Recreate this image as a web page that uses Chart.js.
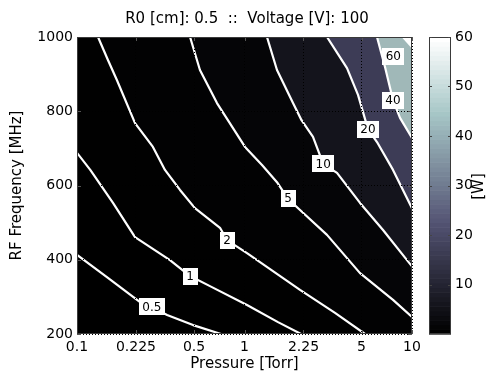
<!DOCTYPE html>
<html><head><meta charset="utf-8">
<script src="https://cdn.jsdelivr.net/npm/chart.js@4.4.0/dist/chart.umd.min.js"></script>
<style>html,body{margin:0;padding:0;background:#fff;}</style>
</head><body>
<canvas id="c" width="494" height="375"></canvas>
<script>
// ---- text ----
const TITLE = 'R0 [cm]: 0.5  ::  Voltage [V]: 100';
const X_LABEL = 'Pressure [Torr]';
const Y_LABEL = 'RF Frequency [MHz]';
const CB_LABEL = '[W]';

// ---- axes ----
const X_MIN = 0.1, X_MAX = 10;
const Y_MIN = 200, Y_MAX = 1000;
const CB_MIN = 0, CB_MAX = 60;
const X_TICKS = [0.1, 0.225, 0.5, 1, 2.25, 5, 10];
const X_TICK_LABELS = ['0.1', '0.225', '0.5', '1', '2.25', '5', '10'];
const Y_TICKS = [200, 400, 600, 800, 1000];
const CB_TICKS = [10, 20, 30, 40, 50, 60];

// ---- contour levels [W] and contour lines [Pressure Torr, Frequency MHz] ----
const LEVELS = [0.5, 1, 2, 5, 10, 20, 40, 60];
const C_05 = [[0.1,413],[0.153,351],[0.238,286],[0.280,273],[0.345,251],[0.493,224],[0.724,200]];
const C_1  = [[0.1,688],[0.12,642],[0.164,553],[0.222,461],[0.359,399],[0.473,356],[0.622,329],[1.035,278],[1.585,232],[2.175,200]];
const C_2  = [[0.1335,1000],[0.153,938],[0.173,884],[0.222,768],[0.284,704],[0.335,642],[0.412,588],[0.506,539],[0.714,486],[0.786,453],[1.035,418],[2.145,319],[3.47,257],[5.24,200]];
const C_5  = [[0.473,1000],[0.542,911],[0.685,822],[1.007,704],[1.272,655],[1.563,609],[1.818,564],[2.145,534],[3.108,467],[4.893,364],[7.702,292],[10,246]];
const C_10 = [[1.362,1000],[1.563,911],[1.948,822],[2.19,776],[2.564,731],[2.95,658],[3.566,634],[4.893,553],[6.713,480],[10,382]];
const C_20 = [[3.108,1000],[4.092,916],[4.76,844],[5.46,752],[6.181,717],[7.702,642],[10,539]];
const C_40 = [[6.181,1000],[6.9,919],[7.391,863],[7.702,830],[8.481,782],[10,728]];
const C_60 = [[8.839,1000],[10,973]];
// inline contour labels: [text, pressure, frequency]
const LABELS = [['0.5',0.28,273],['1',0.473,356],['2',0.786,453],['5',1.818,564],['10',2.95,658],['20',5.46,752],['40',7.702,830],['60',7.73,947]];

// ---- styles ----
const FILL_COLORS = ['#000000','#010101','#020203','#050507','#14141c','#3d3c56','#a0b8b8','#ffffff'];
const FONT = '"DejaVu Sans", "Liberation Sans", sans-serif';

const CONTOURS = [C_05, C_1, C_2, C_5, C_10, C_20, C_40, C_60];

function regionAbove(pts) {
  const out = pts.map(([x, y]) => ({x, y}));
  const first = pts[0], last = pts[pts.length - 1];
  if (last[1] === Y_MIN) out.push({x: X_MAX, y: Y_MIN});
  out.push({x: X_MAX, y: Y_MAX});
  if (first[0] === X_MIN) out.push({x: X_MIN, y: Y_MAX});
  return out;
}

const datasets = [];
CONTOURS.forEach((pts, i) => {
  datasets.push({
    label: 'band > ' + LEVELS[i], data: regionAbove(pts), fill: 'shape',
    backgroundColor: FILL_COLORS[i], borderColor: 'rgba(0,0,0,0)', borderWidth: 0,
    pointRadius: 0, tension: 0, order: 100 - i
  });
});
CONTOURS.forEach((pts, i) => {
  datasets.push({
    label: 'contour ' + LEVELS[i], data: pts.map(([x, y]) => ({x, y})), fill: false,
    borderColor: '#ffffff', borderWidth: 2.2, pointRadius: 0, tension: 0, order: 1,
    borderJoinStyle: 'round'
  });
});

function bone(t) {
  const hr = Math.min(1, t / 0.375);
  const hg = Math.min(1, Math.max(0, (t - 0.375) / 0.375));
  const hb = Math.min(1, Math.max(0, (t - 0.75) / 0.25));
  return [(7 * t + hb) / 8, (7 * t + hg) / 8, (7 * t + hr) / 8].map(v => Math.round(v * 255));
}

const decor = {
  id: 'decor',
  beforeDatasetsDraw(chart) {
    const {ctx, chartArea: a} = chart;
    ctx.save();
    ctx.fillStyle = '#000';
    ctx.fillRect(a.left, a.top, a.right - a.left, a.bottom - a.top);
    ctx.restore();
  },
  afterDraw(chart) {
    const {ctx, chartArea: a} = chart;
    const xs = chart.scales.x, ys = chart.scales.y, cb = chart.scales.cb;
    ctx.save();
    // inward tick marks
    ctx.strokeStyle = '#555'; ctx.lineWidth = 1;
    ctx.beginPath();
    X_TICKS.forEach(v => {
      const px = Math.round(xs.getPixelForValue(v)) + 0.5;
      ctx.moveTo(px, a.top); ctx.lineTo(px, a.top + 4);
      ctx.moveTo(px, a.bottom); ctx.lineTo(px, a.bottom - 4);
    });
    Y_TICKS.forEach(v => {
      const py = Math.round(ys.getPixelForValue(v)) + 0.5;
      ctx.moveTo(a.left, py); ctx.lineTo(a.left + 4, py);
      ctx.moveTo(a.right, py); ctx.lineTo(a.right - 4, py);
    });
    ctx.stroke();
    // plot frame
    ctx.strokeStyle = '#3a3a3a';
    ctx.strokeRect(Math.round(a.left) + 0.5, Math.round(a.top) + 0.5, Math.round(a.right - a.left) - 1, Math.round(a.bottom - a.top) - 1);

    // contour labels
    ctx.font = '12px ' + FONT;
    ctx.textAlign = 'center'; ctx.textBaseline = 'middle';
    LABELS.forEach(([t, x, y]) => {
      const px = xs.getPixelForValue(x), py = ys.getPixelForValue(y);
      const w = ctx.measureText(t).width + 7, h = 17;
      ctx.fillStyle = '#fff';
      ctx.fillRect(Math.round(px - w / 2), Math.round(py - h / 2), Math.round(w), h);
      ctx.fillStyle = '#000';
      ctx.fillText(t, px, py + 0.5);
    });

    // colorbar
    const cx0 = cb.left + 17, cw = 22;
    const yTop = cb.getPixelForValue(CB_MAX), yBot = cb.getPixelForValue(CB_MIN);
    const N = 64;
    for (let i = 0; i < N; i++) {
      const v0 = CB_MIN + (CB_MAX - CB_MIN) * i / N, v1 = CB_MIN + (CB_MAX - CB_MIN) * (i + 1) / N;
      const c = bone(i / (N - 1));
      ctx.fillStyle = `rgb(${c[0]},${c[1]},${c[2]})`;
      const p0 = cb.getPixelForValue(v0), p1 = cb.getPixelForValue(v1);
      ctx.fillRect(cx0, p1, cw, p0 - p1 + 0.6);
    }
    ctx.strokeStyle = '#3a3a3a';
    ctx.strokeRect(cx0 + 0.5, Math.round(yTop) + 0.5, cw - 1, Math.round(yBot - yTop) - 1);
    ctx.strokeStyle = '#444';
    ctx.beginPath();
    CB_TICKS.forEach(v => {
      const py = Math.round(cb.getPixelForValue(v)) + 0.5;
      ctx.moveTo(cx0, py); ctx.lineTo(cx0 + 3, py);
      ctx.moveTo(cx0 + cw, py); ctx.lineTo(cx0 + cw - 3, py);
    });
    ctx.stroke();
    // colorbar label
    ctx.translate(479, (yTop + yBot) / 2 + 1);
    ctx.rotate(-Math.PI / 2);
    ctx.fillStyle = '#000';
    ctx.font = '15px ' + FONT;
    ctx.textAlign = 'center'; ctx.textBaseline = 'middle';
    ctx.fillText(CB_LABEL, 0, 0);
    ctx.restore();
  }
};

new Chart(document.getElementById('c'), {
  type: 'line',
  data: {datasets},
  options: {
    responsive: false, animation: false, devicePixelRatio: 1,
    layout: {padding: 0},
    plugins: {
      legend: {display: false}, tooltip: {enabled: false},
      title: {display: true, text: TITLE, color: '#000', font: {family: FONT, size: 15, weight: 'normal'}, padding: {top: 10, bottom: 9}}
    },
    scales: {
      x: {
        type: 'logarithmic', position: 'bottom', min: X_MIN, max: X_MAX,
        afterBuildTicks: s => { s.ticks = X_TICKS.map(v => ({value: v})); },
        afterFit: s => { s.height = 41; s.paddingLeft = 4; s.paddingRight = 4; },
        ticks: {autoSkip: false, maxRotation: 0, padding: 5, color: '#000', font: {family: FONT, size: 14},
          callback: (v, i) => X_TICK_LABELS[i]},
        grid: {color: '#000', lineWidth: 1, drawTicks: false, z: 1},
        border: {display: false, dash: [1, 2]},
        title: {display: true, text: X_LABEL, color: '#000', font: {family: FONT, size: 15}, padding: {top: 0, bottom: 2}}
      },
      y: {
        type: 'linear', position: 'left', min: Y_MIN, max: Y_MAX,
        afterBuildTicks: s => { s.ticks = Y_TICKS.map(v => ({value: v})); },
        afterFit: s => { s.width = 77; s.paddingTop = 4; s.paddingBottom = 4; },
        ticks: {padding: 4, color: '#000', font: {family: FONT, size: 14}, callback: v => String(v)},
        grid: {color: '#000', lineWidth: 1, drawTicks: false, z: 1},
        border: {display: false, dash: [1, 2]},
        title: {display: true, text: Y_LABEL, color: '#000', font: {family: FONT, size: 15}, padding: {top: 8, bottom: 0}}
      },
      cb: {
        type: 'linear', position: 'right', min: CB_MIN, max: CB_MAX,
        afterBuildTicks: s => { s.ticks = CB_TICKS.map(v => ({value: v})); },
        afterFit: s => { s.width = 82; s.paddingTop = 4; s.paddingBottom = 4; },
        ticks: {padding: 43, color: '#000', font: {family: FONT, size: 14}, callback: v => String(v)},
        grid: {display: false, drawTicks: false},
        border: {display: false}
      }
    }
  },
  plugins: [decor]
});
</script>
</body></html>
